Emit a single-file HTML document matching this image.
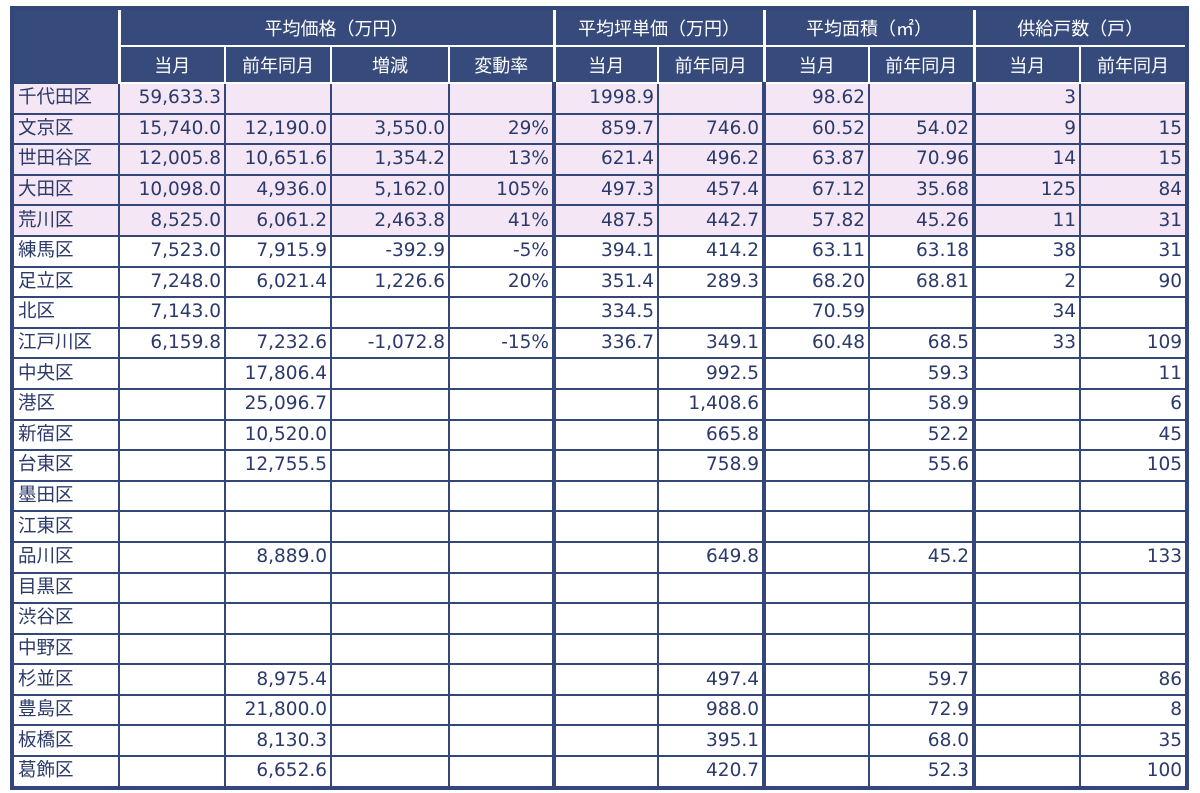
<!DOCTYPE html>
<html><head><meta charset="utf-8"><style>
body{margin:0;background:#fff;width:1200px;height:793px;overflow:hidden;font-family:"DejaVu Sans","Noto Sans CJK JP",sans-serif;}
table{position:absolute;left:10px;top:6px;border-collapse:collapse;table-layout:fixed;width:1179px;border:4px solid #34477a;}
td,th{border:2px solid #34477a;padding:0 3px;overflow:hidden;white-space:nowrap;}
th{background:#364a7b;color:#fff;font-weight:normal;font-size:18px;height:35px;border-color:#fff;font-family:"Noto Sans CJK JP",sans-serif;}
tr.h1 th{border-top:none;}
th.corner{border:none;border-right:3px solid #fff;}
td{height:28.6px;font-size:18.5px;color:#2b3a6b;text-align:right;padding-right:3px;line-height:28px;}
td:first-child{text-align:left;padding-left:4px;}
tr.p td{background:#f4e6f5;}
.g{border-left:4px solid #34477a;}
th.g{border-left:3px solid #fff;}
</style></head><body>
<table>
<colgroup><col style="width:107px"><col style="width:106px"><col style="width:106px"><col style="width:118px"><col style="width:105px"><col style="width:104px"><col style="width:106px"><col style="width:105px"><col style="width:105px"><col style="width:106px"><col style="width:107px"></colgroup>
<tr class="h1"><th rowspan="2" class="corner"></th><th colspan="4">平均価格（万円）</th><th colspan="2" class="g">平均坪単価（万円）</th><th colspan="2" class="g">平均面積（㎡）</th><th colspan="2" class="g">供給戸数（戸）</th></tr>
<tr><th>当月</th><th>前年同月</th><th>増減</th><th>変動率</th><th class="g">当月</th><th>前年同月</th><th class="g">当月</th><th>前年同月</th><th class="g">当月</th><th>前年同月</th></tr>
<tr class="p"><td>千代田区</td><td>59,633.3</td><td></td><td></td><td></td><td class="g">1998.9</td><td></td><td class="g">98.62</td><td></td><td class="g">3</td><td></td></tr>
<tr class="p"><td>文京区</td><td>15,740.0</td><td>12,190.0</td><td>3,550.0</td><td>29%</td><td class="g">859.7</td><td>746.0</td><td class="g">60.52</td><td>54.02</td><td class="g">9</td><td>15</td></tr>
<tr class="p"><td>世田谷区</td><td>12,005.8</td><td>10,651.6</td><td>1,354.2</td><td>13%</td><td class="g">621.4</td><td>496.2</td><td class="g">63.87</td><td>70.96</td><td class="g">14</td><td>15</td></tr>
<tr class="p"><td>大田区</td><td>10,098.0</td><td>4,936.0</td><td>5,162.0</td><td>105%</td><td class="g">497.3</td><td>457.4</td><td class="g">67.12</td><td>35.68</td><td class="g">125</td><td>84</td></tr>
<tr class="p"><td>荒川区</td><td>8,525.0</td><td>6,061.2</td><td>2,463.8</td><td>41%</td><td class="g">487.5</td><td>442.7</td><td class="g">57.82</td><td>45.26</td><td class="g">11</td><td>31</td></tr>
<tr><td>練馬区</td><td>7,523.0</td><td>7,915.9</td><td>-392.9</td><td>-5%</td><td class="g">394.1</td><td>414.2</td><td class="g">63.11</td><td>63.18</td><td class="g">38</td><td>31</td></tr>
<tr><td>足立区</td><td>7,248.0</td><td>6,021.4</td><td>1,226.6</td><td>20%</td><td class="g">351.4</td><td>289.3</td><td class="g">68.20</td><td>68.81</td><td class="g">2</td><td>90</td></tr>
<tr><td>北区</td><td>7,143.0</td><td></td><td></td><td></td><td class="g">334.5</td><td></td><td class="g">70.59</td><td></td><td class="g">34</td><td></td></tr>
<tr><td>江戸川区</td><td>6,159.8</td><td>7,232.6</td><td>-1,072.8</td><td>-15%</td><td class="g">336.7</td><td>349.1</td><td class="g">60.48</td><td>68.5</td><td class="g">33</td><td>109</td></tr>
<tr><td>中央区</td><td></td><td>17,806.4</td><td></td><td></td><td class="g"></td><td>992.5</td><td class="g"></td><td>59.3</td><td class="g"></td><td>11</td></tr>
<tr><td>港区</td><td></td><td>25,096.7</td><td></td><td></td><td class="g"></td><td>1,408.6</td><td class="g"></td><td>58.9</td><td class="g"></td><td>6</td></tr>
<tr><td>新宿区</td><td></td><td>10,520.0</td><td></td><td></td><td class="g"></td><td>665.8</td><td class="g"></td><td>52.2</td><td class="g"></td><td>45</td></tr>
<tr><td>台東区</td><td></td><td>12,755.5</td><td></td><td></td><td class="g"></td><td>758.9</td><td class="g"></td><td>55.6</td><td class="g"></td><td>105</td></tr>
<tr><td>墨田区</td><td></td><td></td><td></td><td></td><td class="g"></td><td></td><td class="g"></td><td></td><td class="g"></td><td></td></tr>
<tr><td>江東区</td><td></td><td></td><td></td><td></td><td class="g"></td><td></td><td class="g"></td><td></td><td class="g"></td><td></td></tr>
<tr><td>品川区</td><td></td><td>8,889.0</td><td></td><td></td><td class="g"></td><td>649.8</td><td class="g"></td><td>45.2</td><td class="g"></td><td>133</td></tr>
<tr><td>目黒区</td><td></td><td></td><td></td><td></td><td class="g"></td><td></td><td class="g"></td><td></td><td class="g"></td><td></td></tr>
<tr><td>渋谷区</td><td></td><td></td><td></td><td></td><td class="g"></td><td></td><td class="g"></td><td></td><td class="g"></td><td></td></tr>
<tr><td>中野区</td><td></td><td></td><td></td><td></td><td class="g"></td><td></td><td class="g"></td><td></td><td class="g"></td><td></td></tr>
<tr><td>杉並区</td><td></td><td>8,975.4</td><td></td><td></td><td class="g"></td><td>497.4</td><td class="g"></td><td>59.7</td><td class="g"></td><td>86</td></tr>
<tr><td>豊島区</td><td></td><td>21,800.0</td><td></td><td></td><td class="g"></td><td>988.0</td><td class="g"></td><td>72.9</td><td class="g"></td><td>8</td></tr>
<tr><td>板橋区</td><td></td><td>8,130.3</td><td></td><td></td><td class="g"></td><td>395.1</td><td class="g"></td><td>68.0</td><td class="g"></td><td>35</td></tr>
<tr><td>葛飾区</td><td></td><td>6,652.6</td><td></td><td></td><td class="g"></td><td>420.7</td><td class="g"></td><td>52.3</td><td class="g"></td><td>100</td></tr>
</table>
</body></html>
